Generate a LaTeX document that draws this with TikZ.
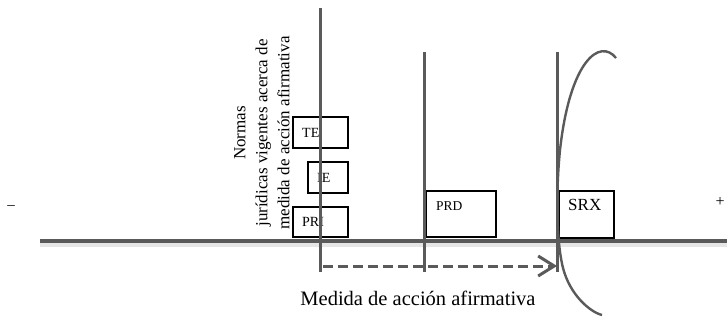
\documentclass[tikz,border=0pt]{standalone}
\usepackage{fontspec}
\setmainfont{Liberation Serif}
\usetikzlibrary{arrows.meta}
\definecolor{axisgray}{HTML}{5A5A5A}
\definecolor{shadowgray}{HTML}{E6E6E6}
\tikzset{
  axisline/.style={draw=axisgray, line width=3.4pt},
  vline/.style={draw=axisgray, line width=3pt},
  shadowline/.style={draw=shadowgray, line width=4pt},
  labelbox/.style={draw=black, line width=1.2pt},
  boxtext/.style={font=\fontsize{14}{16}\selectfont, inner sep=0pt, anchor=west},
  dasharrow/.style={draw=axisgray, line width=3pt, dash pattern=on 10pt off 5pt, -{Straight Barb[length=16pt,width=20pt,line width=3pt]}},
}
\begin{document}
\begin{tikzpicture}[x=1pt,y=-1pt]
\useasboundingbox (0,0) rectangle (727,320);
% axis
\coordinate (axL) at (40,241);
\coordinate (axR) at (727,241);
\draw[shadowline] ([yshift=-3.5pt]axL) -- ([yshift=-3.5pt]axR);
\draw[axisline] (axL) -- (axR);
% vertical lines
\coordinate (v1t) at (320,8);   \coordinate (v1b) at (320,272);
\coordinate (v2t) at (424,52);  \coordinate (v2b) at (424,272);
\coordinate (v3t) at (557,52);  \coordinate (v3b) at (557,272);
% boxes
\draw[labelbox] (293,117) rectangle (348,148);
\draw[labelbox] (308,162) rectangle (348,193);
\draw[labelbox] (293,207) rectangle (348,237);
\draw[labelbox] (426,191) rectangle (496,237);
\draw[labelbox] (559,191) rectangle (614,238);
\node[boxtext] (te) at (302,133) {TE};
\node[boxtext] (ie) at (317,178) {IE};
\node[boxtext] (pri) at (302,222) {PRI};
\node[boxtext, font=\fontsize{13.5}{15}\selectfont] (prd) at (436,206) {PRD};
\node[boxtext, font=\fontsize{17}{19}\selectfont] (srx) at (568,205) {SRX};
\draw[vline] (v1t) -- (v1b);
\draw[vline] (v2t) -- (v2b);
\draw[vline] (v3t) -- (v3b);
% dashed arrow
\coordinate (arS) at (323,266);
\coordinate (arE) at (557,266);
\draw[dasharrow] (arS) -- (arE);
% curve
\coordinate (cA) at (616,58);
\coordinate (cC) at (602,315);
\draw[axisgray, line width=2.4pt] (cA) .. controls (600,38) and (570,60) .. (560,150)
  .. controls (556,190) and (556,240) .. (563,268) .. controls (570,295) and (590,312) .. (cC);
% labels
\node[rotate=90, align=center, font=\fontsize{17}{22}\selectfont] (normas) at (262,133)
  {Normas\\jurídicas vigentes acerca de\\medida de acción afirmativa};
\node[font=\fontsize{20.5}{24}\selectfont] (medida) at (418,298) {Medida de acción afirmativa};
\node[font=\fontsize{15}{18}\selectfont] (minus) at (11,208) {–};
\node[font=\fontsize{16}{18}\selectfont] (plus) at (720,202) {+};
\end{tikzpicture}
\end{document}
